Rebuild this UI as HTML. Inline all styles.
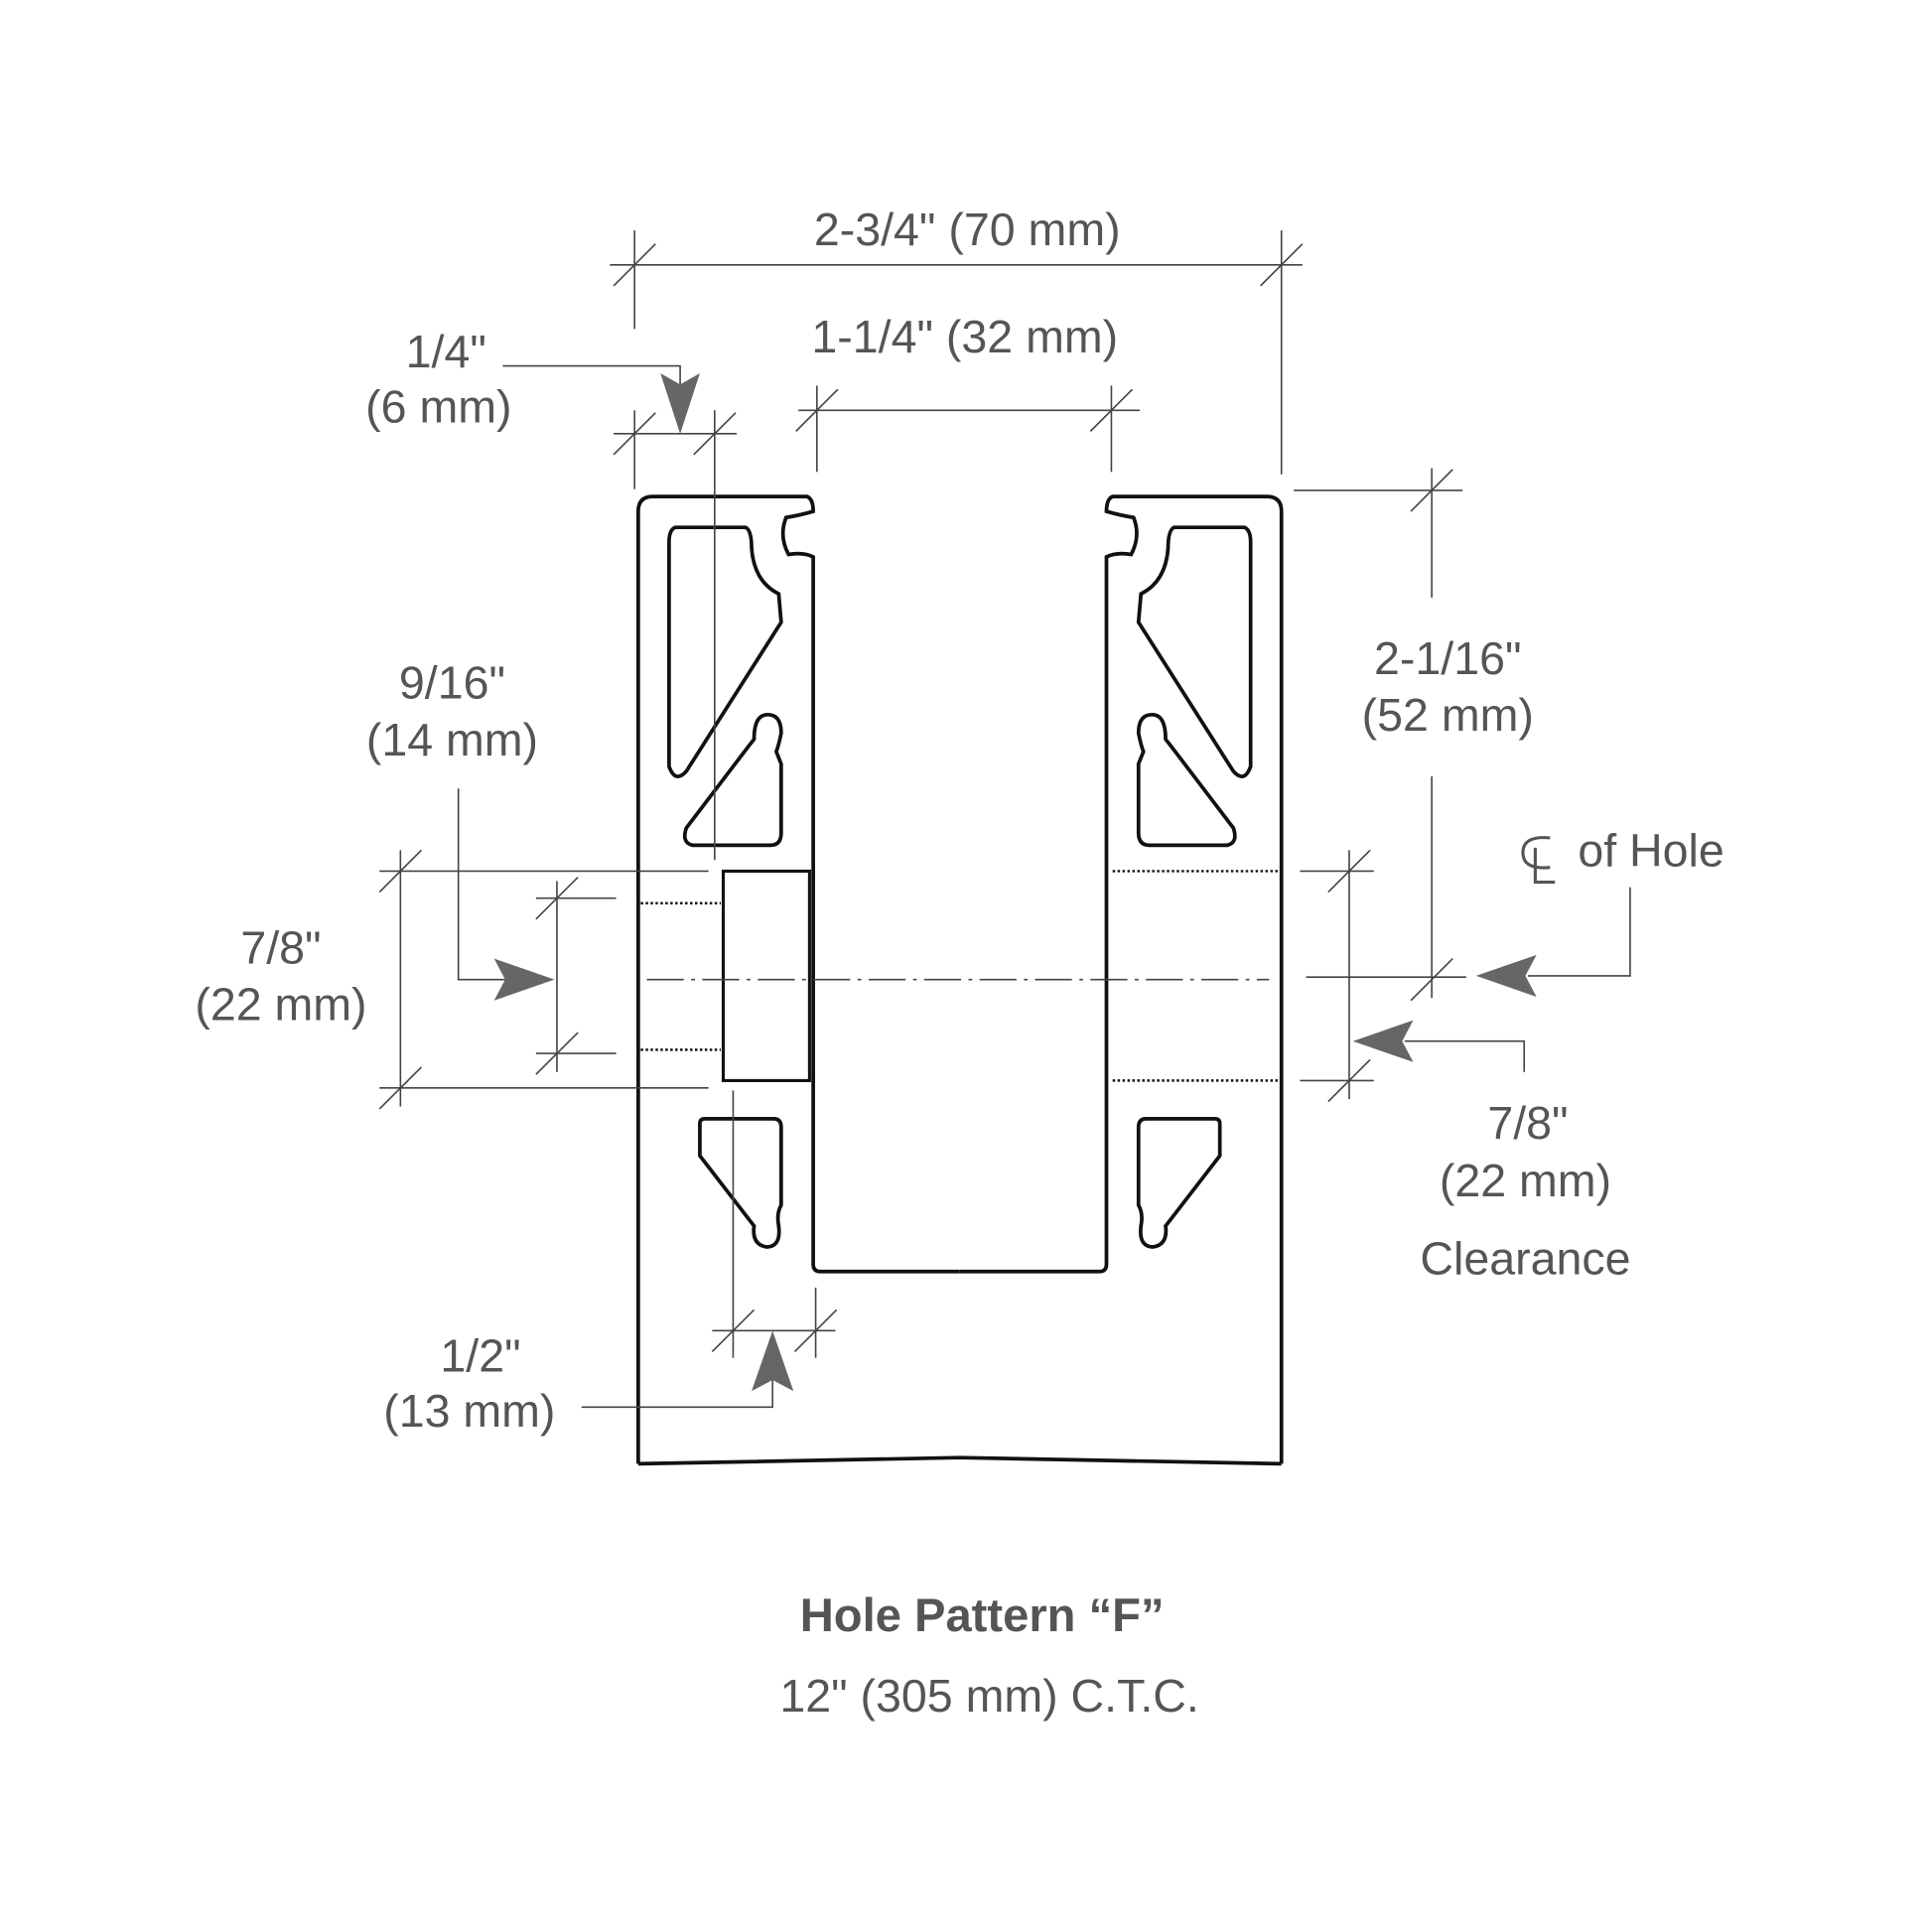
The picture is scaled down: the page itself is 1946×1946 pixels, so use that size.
<!DOCTYPE html>
<html><head><style>html,body{margin:0;padding:0;background:#fff}svg{display:block}</style></head>
<body>
<svg width="1946" height="1946" viewBox="0 0 1568 1568" xmlns="http://www.w3.org/2000/svg">
<defs>
<g id="sl"><line x1="-17" y1="17" x2="17" y2="-17" stroke="#444" stroke-width="1.3"/></g>
<g id="half">
 <path d="M518,1188 L518,415 Q518,403 530,403 L655,403 Q660,405 660,415 Q650,418 638,420 Q632,435 640,450 Q652,448 660,452 L660,1026 Q660,1032 666,1032 L779,1032" fill="none" stroke="#111" stroke-width="3"/>
 <path d="M548,428 L605,428 Q610,430 610,445 Q612,472 632,482 L634,505 L557,626 Q548,636 543,622 L543,440 Q543,430 548,428 Z" fill="none" stroke="#111" stroke-width="3"/>
 <path d="M612,600 Q612,580 623,580 Q634,580 634,595 Q632,605 630,610 L634,620 L634,676 Q634,686 625,686 L562,686 Q553,684 557,672 L608,605 Z" fill="none" stroke="#111" stroke-width="3"/>
 <path d="M572,908 L628,908 Q634,908 634,915 L634,978 Q630,985 632,995 Q634,1012 622,1012 Q610,1010 612,995 L568,938 L568,912 Q568,908 572,908 Z" fill="none" stroke="#111" stroke-width="3"/>
</g>
</defs>
<g fill="none" stroke="#111" stroke-width="3">
 <use href="#half"/>
 <use href="#half" transform="translate(1558,0) scale(-1,1)"/>
 <path d="M518,1188 Q650,1185 779,1183 Q900,1185 1040,1188" />
 <rect x="587" y="707" width="70" height="170" stroke-width="2.5"/>
</g>
<g stroke="#111" stroke-width="2" stroke-dasharray="2,2">
 <line x1="520" y1="733" x2="585" y2="733"/><line x1="520" y1="852" x2="585" y2="852"/>
 <line x1="903" y1="707" x2="1038" y2="707"/><line x1="903" y1="877" x2="1038" y2="877"/>
</g>
<line x1="525" y1="795" x2="1030" y2="795" stroke="#444" stroke-width="1.3" stroke-dasharray="30,6,3,6"/>
<g stroke="#444" stroke-width="1.3" fill="none">
 <line x1="495" y1="215" x2="1057" y2="215"/><line x1="515" y1="187" x2="515" y2="267"/><line x1="1040" y1="187" x2="1040" y2="385"/>
 <line x1="648" y1="333" x2="925" y2="333"/><line x1="663" y1="313" x2="663" y2="383"/><line x1="902" y1="313" x2="902" y2="383"/>
 <line x1="498" y1="352" x2="598" y2="352"/><line x1="515" y1="333" x2="515" y2="397"/><line x1="580" y1="333" x2="580" y2="698"/>
 <polyline points="408,297 552,297 552,320"/>
 <line x1="1162" y1="380" x2="1162" y2="485"/><line x1="1162" y1="630" x2="1162" y2="810"/>
 <line x1="1050" y1="398" x2="1187" y2="398"/><line x1="1060" y1="793" x2="1190" y2="793"/>
 <polyline points="1323,720 1323,792 1240,792"/>
 <line x1="1095" y1="690" x2="1095" y2="892"/><line x1="1055" y1="707" x2="1115" y2="707"/><line x1="1055" y1="877" x2="1115" y2="877"/>
 <polyline points="1237,870 1237,845 1140,845"/>
 <line x1="325" y1="690" x2="325" y2="898"/><line x1="308" y1="707" x2="575" y2="707"/><line x1="308" y1="883" x2="575" y2="883"/>
 <line x1="452" y1="715" x2="452" y2="870"/><line x1="435" y1="729" x2="500" y2="729"/><line x1="435" y1="855" x2="500" y2="855"/>
 <polyline points="372,640 372,795 410,795"/>
 <line x1="578" y1="1080" x2="678" y2="1080"/><line x1="595" y1="885" x2="595" y2="1102"/><line x1="662" y1="1045" x2="662" y2="1102"/>
 <polyline points="627,1120 627,1142 472,1142"/>
</g>
<g>
 <use href="#sl" x="515" y="215"/><use href="#sl" x="1040" y="215"/>
 <use href="#sl" x="663" y="333"/><use href="#sl" x="902" y="333"/>
 <use href="#sl" x="515" y="352"/><use href="#sl" x="580" y="352"/>
 <use href="#sl" x="1162" y="398"/><use href="#sl" x="1162" y="795"/>
 <use href="#sl" x="1095" y="707"/><use href="#sl" x="1095" y="877"/>
 <use href="#sl" x="325" y="707"/><use href="#sl" x="325" y="883"/>
 <use href="#sl" x="452" y="729"/><use href="#sl" x="452" y="855"/>
 <use href="#sl" x="595" y="1080"/><use href="#sl" x="662" y="1080"/>
</g>
<g fill="#666">
 <path d="M552,352 L536,303 L552,312 L568,303 Z"/>
 <path d="M1198,792 L1247,775 L1238,792 L1247,809 Z"/>
 <path d="M1098,845 L1147,828 L1138,845 L1147,862 Z"/>
 <path d="M450,795 L401,778 L410,795 L401,812 Z"/>
 <path d="M627,1080 L610,1129 L627,1120 L644,1129 Z"/>
</g>
<g font-family="Liberation Sans, sans-serif" font-size="37.5" fill="#555" text-anchor="middle">
 <text x="785" y="199">2-3/4" (70 mm)</text>
 <text x="783" y="286">1-1/4" (32 mm)</text>
 <text x="362" y="298">1/4"</text><text x="356" y="343">(6 mm)</text>
 <text x="367" y="567">9/16"</text><text x="367" y="613">(14 mm)</text>
 <text x="228" y="782">7/8"</text><text x="228" y="828">(22 mm)</text>
 <text x="1175" y="547">2-1/16"</text><text x="1175" y="593">(52 mm)</text>
 <text x="1340" y="703">of Hole</text>
 <text x="1240" y="924">7/8"</text><text x="1238" y="971">(22 mm)</text><text x="1238" y="1034">Clearance</text>
 <text x="390" y="1113">1/2"</text><text x="381" y="1158">(13 mm)</text>
 <text x="797" y="1324" font-weight="bold" font-size="38">Hole Pattern “F”</text>
 <text x="803" y="1389">12" (305 mm) C.T.C.</text>
</g>
<g stroke="#555" stroke-width="2.5" fill="none">
 <path d="M1258,680 Q1236,678 1236,692 Q1236,706 1258,704"/>
 <polyline points="1246,688 1246,716 1262,716"/>
</g>
</svg>
</body></html>
